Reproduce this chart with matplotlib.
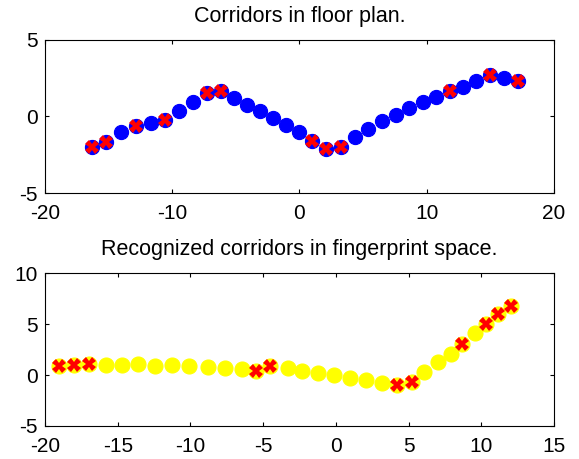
import matplotlib
matplotlib.use('Agg')
import matplotlib.pyplot as plt
import numpy as np

plt.rcParams['font.family'] = ['Liberation Sans', 'DejaVu Sans']
plt.rcParams['font.size'] = 15
plt.rcParams['axes.unicode_minus'] = False

# floor plan corridor points
plan_x = [-16.32, -15.17, -14.02, -12.86, -11.63, -10.55, -9.45, -8.35, -7.30, -6.17,
          -5.17, -4.12, -3.09, -2.07, -1.05, -0.05, 0.97, 2.10, 3.23, 4.33,
          5.41, 6.48, 7.56, 8.64, 9.71, 10.76, 11.81, 12.83, 13.91, 14.96,
          16.06, 17.19]
plan_y = [-2.00, -1.69, -1.04, -0.59, -0.43, -0.20, 0.37, 0.93, 1.56, 1.69,
          1.22, 0.78, 0.35, -0.11, -0.57, -1.02, -1.58, -2.15, -2.00, -1.35,
          -0.80, -0.30, 0.13, 0.54, 0.93, 1.30, 1.65, 1.93, 2.35, 2.72,
          2.54, 2.35]
plan_marked = [0, 1, 3, 5, 8, 9, 16, 17, 18, 26, 29, 31]

# fingerprint space points
fp_x = [-19.03, -18.00, -16.97, -15.81, -14.71, -13.59, -12.44, -11.26, -10.07, -8.81,
        -7.59, -6.46, -5.47, -4.50, -3.29, -2.35, -1.22, -0.12, 0.99, 2.07,
        3.15, 4.18, 5.24, 6.09, 7.01, 7.91, 8.69, 9.54, 10.35, 11.17, 12.07]
fp_y = [0.88, 0.98, 1.05, 0.98, 0.98, 1.05, 0.88, 0.98, 0.88, 0.82,
        0.65, 0.55, 0.39, 0.92, 0.72, 0.42, 0.16, 0.00, -0.33, -0.52,
        -0.75, -0.98, -0.65, 0.26, 1.24, 2.09, 3.07, 4.08, 5.00, 5.98, 6.76]
fp_marked = [0, 1, 2, 12, 13, 21, 22, 26, 28, 29, 30]

fig = plt.figure(figsize=(5.79, 4.59), dpi=100)
ax1 = fig.add_axes([0.0777, 0.5795, 0.879, 0.3334])
ax2 = fig.add_axes([0.0777, 0.0719, 0.879, 0.3333])

px = np.array(plan_x); py = np.array(plan_y)
ax1.plot(px, py, 'o', color='blue', ms=10.2, mew=0.8, mec='blue', ls='none')
ax1.plot(px[plan_marked], py[plan_marked], 'X', color='red', ms=10, mew=0, ls='none')
ax1.set_xlim(-20, 20)
ax1.set_ylim(-5, 5)
ax1.set_xticks([-20, -10, 0, 10, 20])
ax1.set_yticks([-5, 0, 5])
ax1.set_title('Corridors in floor plan.', fontsize=15.5, pad=13)

fx = np.array(fp_x); fy = np.array(fp_y)
ax2.plot(fx, fy, 'o', color='yellow', ms=10.8, mew=0.8, mec='yellow', ls='none')
ax2.plot(fx[fp_marked], fy[fp_marked], 'X', color='red', ms=10, mew=0, ls='none')
ax2.set_xlim(-20, 15)
ax2.set_ylim(-5, 10)
ax2.set_xticks([-20, -15, -10, -5, 0, 5, 10, 15])
ax2.set_yticks([-5, 0, 5, 10])
ax2.set_title('Recognized corridors in fingerprint space.', fontsize=15.5, pad=13)

for ax in (ax1, ax2):
    ax.tick_params(direction='in', top=True, right=True, length=3, width=0.8, labelsize=15)
    ax.tick_params(axis='x', pad=8)
    ax.tick_params(axis='y', pad=5)
    for s in ax.spines.values():
        s.set_linewidth(0.8)

fig.savefig('out.png', dpi=100)
